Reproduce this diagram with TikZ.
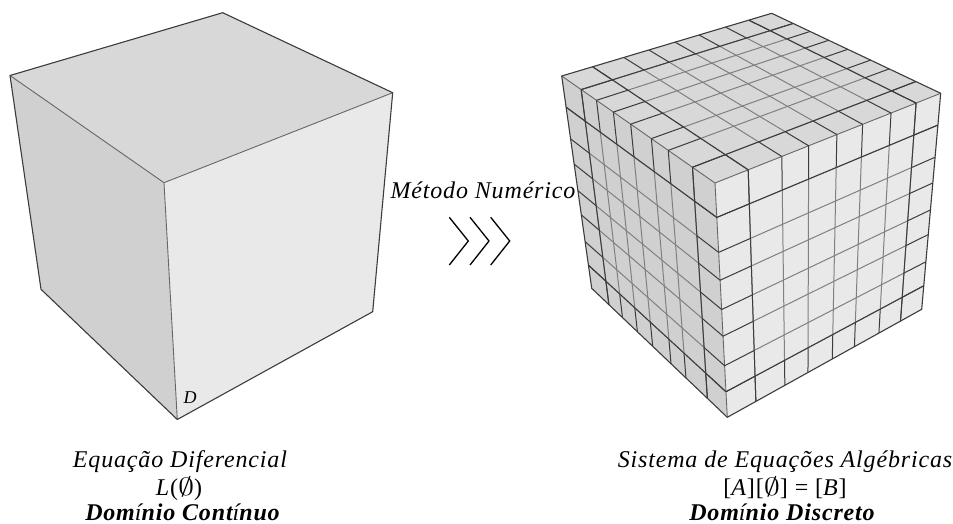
\documentclass[tikz,border=0pt]{standalone}
\usepackage{fontspec}
\setmainfont{Liberation Serif}[LetterSpace=3.5]
\usetikzlibrary{calc,backgrounds}
\definecolor{facetop}{HTML}{D8D8D8}
\definecolor{faceleft}{HTML}{D0D0D0}
\definecolor{faceright}{HTML}{E9E9E9}
\definecolor{edgedark}{HTML}{3C3C3C}
\definecolor{edgemid}{HTML}{666666}
\definecolor{gridgrey}{HTML}{808080}
\tikzset{
  outeredge/.style={edgedark,line width=1.1pt,line join=round},
  inneredge/.style={edgemid,line width=0.9pt},
  gridlight/.style={gridgrey,line width=1pt},
  gridheavy/.style={edgedark,line width=1pt},
  caption/.style={anchor=base,inner sep=0pt,font=\fontsize{24}{26}\selectfont\itshape},
  captionb/.style={caption,font=\fontsize{24}{26}\selectfont\bfseries\itshape},
}
\newcommand{\ulist}{.147,.296,.415,.54,.654,.78,.891}
\newcommand{\vlist}{.127,.227,.337,.45,.585,.695,.853}
\newcommand{\phiglyph}{\scalebox{1.3}[1]{$\emptyset$}}
\newcommand{\gridfam}[7]{%
  \foreach \s [count=\i] in #5{
    \coordinate (p) at ($(#1)!\s!(#2)$);
    \coordinate (q) at ($(#4)!\s!(#3)$);
    \begin{pgfonlayer}{background}
      \draw[gridlight] ($(p)!#6!(q)$)--($(p)!#7!(q)$);
    \end{pgfonlayer}
    \draw[gridheavy] (p)--($(p)!#6!(q)$) ($(p)!#7!(q)$)--(q);
    \ifnum\i=1 \draw[gridheavy] (p)--(q);\fi
    \ifnum\i=7 \draw[gridheavy] (p)--(q);\fi
  }}
\begin{document}
\begin{tikzpicture}[x=1pt,y=-1pt]
  \useasboundingbox (0,0) rectangle (953,524);
  % continuous cube
  \coordinate (cl) at (10,75.5);
  \coordinate (ct) at (222.7,12.7);
  \coordinate (cr) at (392.7,92.7);
  \coordinate (cf) at (164,182.7);
  \coordinate (cz) at (177.3,419.5);
  \coordinate (cq) at (372.7,311.7);
  \coordinate (cb) at (41,289.3);
  \fill[facetop] (cl)--(ct)--(cr)--(cf)--cycle;
  \fill[faceleft] (cl)--(cf)--(cz)--(cb)--cycle;
  \fill[faceright] (cf)--(cr)--(cq)--(cz)--cycle;
  \draw[inneredge] (cl)--(cf)--(cr) (cf)--(cz);
  \draw[outeredge] (cl)--(ct)--(cr)--(cq)--(cz)--(cb)--cycle;
  \node[anchor=base,inner sep=0pt,font=\fontsize{18}{20}\selectfont\itshape] (dlabel) at (190,403) {D};
  % discrete cube
  \coordinate (L) at (561.7,76);
  \coordinate (T) at (771.7,13.3);
  \coordinate (R) at (940.7,93.3);
  \coordinate (F) at (715,183);
  \coordinate (Z) at (727.3,417.3);
  \coordinate (Q) at (921.7,309.3);
  \coordinate (B) at (591.7,288.3);
  \begin{pgfonlayer}{background}
    \fill[facetop] (L)--(T)--(R)--(F)--cycle;
    \fill[faceleft] (L)--(F)--(Z)--(B)--cycle;
    \fill[faceright] (F)--(R)--(Q)--(Z)--cycle;
    \draw[inneredge] (L)--(F)--(R) (F)--(Z);
  \end{pgfonlayer}
  \gridfam{F}{R}{Q}{Z}{\ulist}{.147}{.891}
  \gridfam{F}{Z}{Q}{R}{\ulist}{.147}{.891}
  \gridfam{L}{F}{Z}{B}{\vlist}{.147}{.891}
  \gridfam{L}{B}{Z}{F}{\ulist}{.127}{.853}
  \gridfam{L}{F}{R}{T}{\vlist}{.147}{.891}
  \gridfam{L}{T}{R}{F}{\ulist}{.127}{.853}
  \draw[outeredge] (L)--(T)--(R)--(Q)--(Z)--(B)--cycle;
  % chevrons
  \foreach \x [count=\n] in {449.3,470,490.7}{
    \coordinate (chevt\n) at (\x,217.3);
    \coordinate (chevm\n) at (\x+19,241);
    \coordinate (chevb\n) at (\x,265);
    \draw[black,line width=1.3pt] (chevt\n)--(chevm\n)--(chevb\n);
  }
  \node[caption] (metodo) at (483,198) {Método Numérico};
  \node[caption] (eqdif) at (180,467.5) {Equação Diferencial};
  \node[caption,font=\fontsize{24}{26}\selectfont] (lphi) at (179,495.5) {\textit{L}(\phiglyph)};
  \node[captionb] (contin) at (182.5,520) {Dom{\normalfont\mdseries\itshape í}nio Cont{\normalfont\mdseries\itshape í}nuo};
  \node[caption] (sisteq) at (785,467.5) {Sistema de Equações Algébricas};
  \node[caption,font=\fontsize{24}{26}\selectfont] (abphi) at (785,495.5) {[\textit{A}][\phiglyph] = [\textit{B}]};
  \node[captionb] (discr) at (782,520) {Dom{\normalfont\mdseries\itshape í}nio Discreto};
\end{tikzpicture}
\end{document}
